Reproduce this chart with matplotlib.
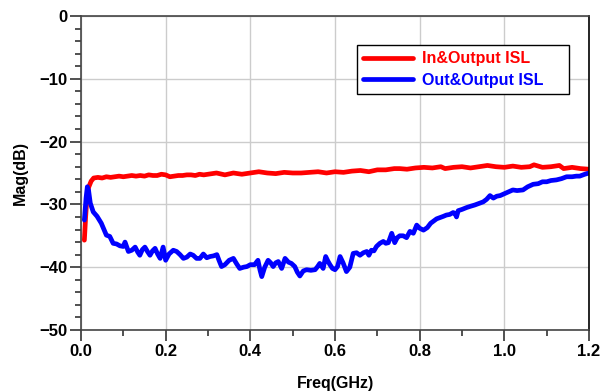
import matplotlib.pyplot as plt
from matplotlib.ticker import MultipleLocator

# In&Output ISL (red)
red_f = [0.008, 0.011, 0.014, 0.018, 0.024, 0.03, 0.04, 0.05, 0.06, 0.07, 0.08, 0.09,
         0.1, 0.11, 0.12, 0.13, 0.14, 0.15, 0.16, 0.17, 0.18, 0.19, 0.2, 0.21, 0.22,
         0.23, 0.24, 0.25, 0.26, 0.27, 0.28, 0.29, 0.3, 0.32, 0.34, 0.36, 0.38, 0.4,
         0.42, 0.44, 0.46, 0.48, 0.5, 0.52, 0.54, 0.56, 0.58, 0.6, 0.62, 0.64, 0.66,
         0.68, 0.7, 0.72, 0.74, 0.753, 0.77, 0.79, 0.81, 0.83, 0.85, 0.86, 0.88, 0.9,
         0.92, 0.94, 0.96, 0.98, 1.0, 1.02, 1.04, 1.06, 1.07, 1.09, 1.11, 1.13, 1.14,
         1.16, 1.18, 1.2]
red_db = [-35.7, -32.0, -29.0, -27.3, -26.3, -25.8, -25.7, -25.8, -25.6, -25.7, -25.6, -25.5,
          -25.6, -25.5, -25.4, -25.5, -25.4, -25.5, -25.3, -25.4, -25.4, -25.2, -25.3, -25.6, -25.5,
          -25.4, -25.4, -25.3, -25.3, -25.4, -25.2, -25.3, -25.2, -25.0, -25.3, -25.0, -25.2, -25.0,
          -24.8, -25.0, -25.1, -24.9, -25.0, -25.0, -24.9, -24.8, -25.0, -24.8, -24.9, -24.7, -24.6,
          -24.8, -24.5, -24.5, -24.3, -24.3, -24.4, -24.2, -24.1, -24.2, -24.0, -24.3, -24.1, -24.0,
          -24.2, -24.0, -23.8, -24.0, -24.1, -23.9, -24.1, -24.0, -23.7, -24.1, -24.0, -23.8, -24.3,
          -24.1, -24.3, -24.4]

# Out&Output ISL (blue)
blue_f = [0.008, 0.012, 0.015, 0.018, 0.022, 0.029, 0.038, 0.048, 0.06, 0.068, 0.076, 0.084,
          0.092, 0.1, 0.104, 0.112, 0.12, 0.128, 0.134, 0.139, 0.145, 0.151, 0.157, 0.163,
          0.169, 0.175, 0.181, 0.187, 0.194, 0.2, 0.208, 0.218, 0.226, 0.234, 0.242, 0.25,
          0.258, 0.265, 0.273, 0.281, 0.289, 0.297, 0.305, 0.313, 0.321, 0.326, 0.332, 0.34,
          0.35, 0.36, 0.368, 0.375, 0.384, 0.392, 0.4, 0.41, 0.418, 0.423, 0.427, 0.434,
          0.442, 0.448, 0.454, 0.46, 0.466, 0.474, 0.482, 0.49, 0.497, 0.505, 0.511, 0.517,
          0.525, 0.533, 0.543, 0.553, 0.559, 0.564, 0.572, 0.578, 0.583, 0.588, 0.594, 0.6,
          0.606, 0.612, 0.619, 0.627, 0.635, 0.643, 0.651, 0.659, 0.667, 0.675, 0.68, 0.686,
          0.692, 0.698, 0.706, 0.714, 0.72, 0.726, 0.734, 0.741, 0.747, 0.753, 0.761, 0.769,
          0.777, 0.785, 0.793, 0.8, 0.809, 0.818, 0.826, 0.832, 0.84, 0.848, 0.856, 0.863,
          0.871, 0.879, 0.883, 0.887, 0.891, 0.9, 0.911, 0.92, 0.93, 0.942, 0.95, 0.958,
          0.966, 0.974, 0.982, 0.99, 1.0, 1.01, 1.02, 1.03, 1.044, 1.055, 1.068, 1.08,
          1.09, 1.1, 1.11, 1.123, 1.135, 1.147, 1.16, 1.17, 1.178, 1.19, 1.2]
blue_db = [-32.5, -29.0, -27.2, -27.8, -29.8, -31.2, -31.9, -33.0, -34.9, -35.1, -36.2, -36.3,
           -36.6, -36.7, -36.0, -37.5, -37.3, -36.8, -37.6, -38.1, -37.2, -36.8, -37.5, -38.1,
           -37.4, -37.0, -37.9, -38.6, -36.8, -38.9, -37.9, -37.3, -37.5, -38.0, -38.6, -38.4,
           -37.9, -38.1, -38.6, -38.6, -37.9, -38.5, -38.3, -38.2, -38.0, -38.9, -39.9, -39.6,
           -38.9, -38.6, -39.5, -40.2, -40.0, -39.9, -39.6, -39.6, -38.9, -40.5, -41.5, -40.0,
           -38.9, -39.3, -39.9, -39.3, -39.1, -40.2, -38.6, -39.2, -39.4, -39.9, -40.8, -41.4,
           -40.6, -40.4, -40.5, -40.4, -39.9, -39.4, -40.2, -38.3, -39.0, -39.6, -40.2, -40.4,
           -39.9, -38.3, -39.3, -40.7, -40.0, -37.8, -37.7, -38.1, -37.7, -37.5, -38.1, -37.3,
           -37.4, -36.7, -36.2, -35.9, -36.2, -36.1, -34.6, -36.1, -35.3, -35.0, -35.0, -35.3,
           -34.3, -34.6, -33.3, -33.8, -34.1, -33.7, -33.0, -32.7, -32.3, -32.1, -31.9, -31.7,
           -31.6, -31.3, -31.4, -32.0, -31.0, -30.8, -30.5, -30.3, -30.1, -29.8, -29.6, -29.2,
           -28.6, -29.0, -28.7, -28.6, -28.3, -28.0, -27.7, -27.8, -27.7, -27.2, -26.8, -26.7,
           -26.4, -26.4, -26.2, -26.1, -25.9, -25.6, -25.6, -25.5, -25.5, -25.2, -25.0]

plt.rcParams['font.family'] = ['Liberation Sans', 'DejaVu Sans']
plt.rcParams['font.weight'] = 'bold'

fig = plt.figure(figsize=(6.07, 3.92), dpi=100)
ax = fig.add_axes([0.1334, 0.1582, 0.8370, 0.8010])

ax.plot(red_f, red_db, color='#ff0000', lw=3.4, label='In&Output ISL', solid_capstyle='round')
ax.plot(blue_f, blue_db, color='#0000ff', lw=3.4, label='Out&Output ISL', solid_capstyle='round')

ax.set_xlim(0, 1.2)
ax.set_ylim(-50, 0)
ax.xaxis.set_major_locator(MultipleLocator(0.2))
ax.xaxis.set_minor_locator(MultipleLocator(0.1))
ax.yaxis.set_major_locator(MultipleLocator(10))
ax.yaxis.set_minor_locator(MultipleLocator(2))
ax.xaxis.set_major_formatter(plt.FuncFormatter(lambda v, p: '%.1f' % v))
ax.grid(True, which='major', color='#cccccc', lw=1)
ax.set_axisbelow(True)

ax.tick_params(which='major', direction='out', length=8, width=1.2, color='#333333',
               labelsize=12, pad=2)
ax.tick_params(which='minor', direction='out', length=4.5, width=1.2, color='#333333')
ax.tick_params(top=False, right=False, which='both')
for lab in ax.get_xticklabels() + ax.get_yticklabels():
    lab.set_fontweight('bold')

for s in ['left', 'bottom', 'top']:
    ax.spines[s].set_color('#444444')
    ax.spines[s].set_linewidth(1.2)
ax.spines['right'].set_color('black')
ax.spines['right'].set_linewidth(1.2)

ax.set_ylabel('Mag(dB)', fontsize=11.5, fontweight='bold', labelpad=8)
ax.set_xlabel('Freq(GHz)', fontsize=11.5, fontweight='bold', labelpad=12)

leg = ax.legend(loc='upper left', bbox_to_anchor=(0.543, 0.908, 0.417, 0.0), mode='expand',
                borderaxespad=0, fancybox=False, edgecolor='black', framealpha=1,
                handlelength=3.1, handletextpad=0.6, borderpad=0.4, labelspacing=0.4,
                prop={'size': 11.5, 'weight': 'bold'})
leg.get_frame().set_linewidth(1.0)
for txt, ln in zip(leg.get_texts(), leg.get_lines()):
    txt.set_color(ln.get_color())

fig.savefig('out.png', dpi=100)
